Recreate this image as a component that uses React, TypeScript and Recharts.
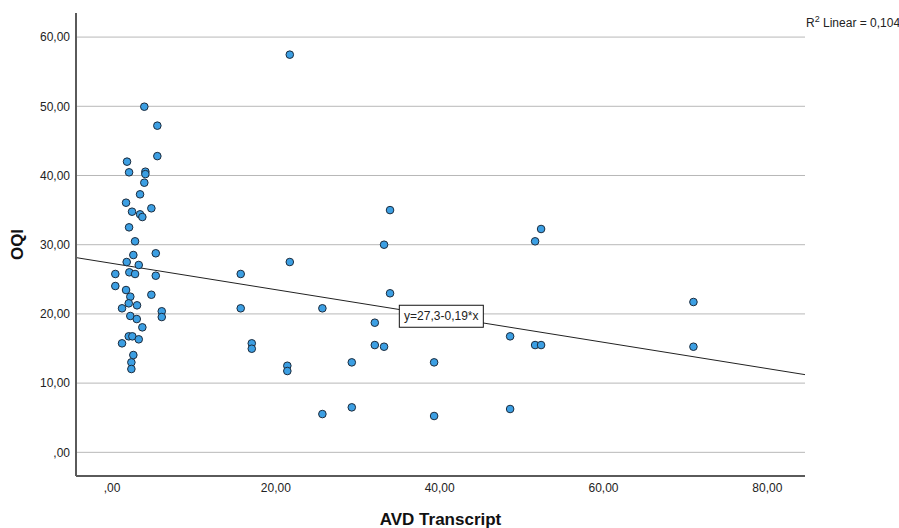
import React from "react";
import {
  ScatterChart,
  Scatter,
  XAxis,
  YAxis,
  CartesianGrid,
  ReferenceLine,
  ReferenceDot,
  Label,
  Customized,
} from "recharts";

// AVD Transcript (x) and OQI (y), one entry per case
const avdTranscript = [
  3.94, 5.53, 5.53, 1.83, 2.08, 4.07, 4.07, 3.94, 3.42, 1.71,
  2.44, 3.42, 3.7, 4.8, 2.08, 2.81, 2.6, 5.34, 1.79, 3.26,
  0.4, 2.11, 2.81, 5.34, 0.4, 1.71, 2.23, 2.04, 3.05, 4.8,
  1.22, 6.07, 6.07, 2.23, 3.02, 3.7, 2.04, 2.48, 3.26, 1.22,
  2.6, 2.36, 2.36,
  21.7, 33.94, 33.21, 52.38, 51.65, 21.7, 15.71, 33.94, 15.71, 25.68,
  32.08, 17.06, 17.06, 32.08, 33.21, 48.6, 51.65, 52.38, 21.4, 21.4,
  29.27, 39.32, 25.68, 29.27, 39.32, 48.6, 70.98, 70.98,
];

const oqi = [
  49.94, 47.2, 42.8, 42.0, 40.46, 40.55, 40.2, 38.96, 37.28, 36.07,
  34.77, 34.39, 34.0, 35.26, 32.51, 30.49, 28.51, 28.76, 27.5, 27.07,
  25.77, 26.01, 25.77, 25.52, 24.03, 23.45, 22.49, 21.53, 21.24, 22.77,
  20.81, 20.38, 19.55, 19.7, 19.26, 18.06, 16.76, 16.76, 16.33, 15.75,
  14.06, 13.0, 12.04,
  57.46, 35.0, 30.0, 32.27, 30.49, 27.5, 25.77, 22.98, 20.81, 20.81,
  18.73, 15.75, 14.97, 15.5, 15.26, 16.76, 15.5, 15.5, 12.51, 11.75,
  13.0, 13.0, 5.53, 6.5, 5.25, 6.26, 21.72, 15.26,
];

const xTicks = [0, 20, 40, 60, 80];
const yTicks = [0, 10, 20, 30, 40, 50, 60];

// fit line: y = 27,3 - 0,19 * x, R² = 0,104
const intercept = 27.3;
const slope = -0.19;
const rSquared = "0,104";

const X_DOMAIN: [number, number] = [-4.4, 84.6];
const Y_DOMAIN: [number, number] = [-3.42, 63.48];
const FONT = "'Liberation Sans', Arial, sans-serif";

const points = avdTranscript.map((x, i) => ({ x, y: oqi[i] }));
const fit = (x: number) => intercept + slope * x;

const fmt = (v: number) =>
  v === 0 ? ",00" : v.toFixed(2).replace(".", ",");

const Dot = (props: any) => (
  <circle
    cx={props.cx}
    cy={props.cy}
    r={3.8}
    fill="#3c9fe3"
    stroke="#1b2b3d"
    strokeWidth={1}
  />
);

const labelX = 40.2;

const EquationBox = (props: any) => {
  const { cx, cy } = props;
  return (
    <g>
      <rect
        x={cx - 42}
        y={cy - 11}
        width={84}
        height={22}
        fill="#fff"
        stroke="#111"
        strokeWidth={1}
      />
      <text
        x={cx}
        y={cy + 4}
        textAnchor="middle"
        fontFamily={FONT}
        fontSize={12}
        fill="#222"
      >
        y=27,3-0,19*x
      </text>
    </g>
  );
};

const RSquaredNote = () => (
  <text x={806} y={27} fontFamily={FONT} fontSize={12} fill="#222">
    R
    <tspan fontSize={9} dy={-5}>
      2
    </tspan>
    <tspan dy={5}> Linear = {rSquared}</tspan>
  </text>
);

const tickStyle = { fontFamily: FONT, fontSize: 12, fill: "#222" };

export default function App() {
  return (
    <div style={{ position: "absolute", left: 0, top: 0, background: "#fff" }}>
      <ScatterChart
        width={899}
        height={528}
        margin={{ top: 13, right: 94, bottom: 0, left: 0 }}
      >
        <CartesianGrid
          vertical={false}
          stroke="#b8b8b8"
          strokeWidth={1}
          horizontalValues={yTicks}
        />
        <XAxis
          type="number"
          dataKey="x"
          domain={X_DOMAIN}
          ticks={xTicks}
          allowDataOverflow
          tickFormatter={fmt}
          tick={tickStyle}
          tickLine={false}
          tickSize={0}
          tickMargin={7}
          height={52}
          axisLine={{ stroke: "#5a5a5a", strokeWidth: 2 }}
        >
          <Label
            content={(p: any) => {
              const vb = p.viewBox;
              return (
                <text
                  x={vb.x + vb.width / 2}
                  y={525}
                  textAnchor="middle"
                  fontFamily={FONT}
                  fontSize={17}
                  fontWeight="bold"
                  fill="#111"
                >
                  AVD Transcript
                </text>
              );
            }}
          />
        </XAxis>
        <YAxis
          type="number"
          dataKey="y"
          domain={Y_DOMAIN}
          ticks={yTicks}
          allowDataOverflow
          tickFormatter={fmt}
          tick={tickStyle}
          tickLine={false}
          tickSize={0}
          tickMargin={6}
          width={76}
          axisLine={{ stroke: "#5a5a5a", strokeWidth: 2 }}
        >
          <Label
            content={(p: any) => {
              const vb = p.viewBox;
              const cy = vb.y + vb.height / 2;
              return (
                <text
                  x={23}
                  y={cy}
                  transform={`rotate(-90, 23, ${cy})`}
                  textAnchor="middle"
                  fontFamily={FONT}
                  fontSize={17}
                  fontWeight="bold"
                  fill="#111"
                >
                  OQI
                </text>
              );
            }}
          />
        </YAxis>
        <ReferenceLine
          segment={[
            { x: X_DOMAIN[0], y: fit(X_DOMAIN[0]) },
            { x: X_DOMAIN[1], y: fit(X_DOMAIN[1]) },
          ]}
          stroke="#222"
          strokeWidth={1}
        />
        <Scatter
          data={points}
          shape={Dot}
          isAnimationActive={false}
        />
        <ReferenceDot
          x={labelX}
          y={fit(labelX)}
          shape={EquationBox}
        />
        <Customized component={RSquaredNote} />
      </ScatterChart>
    </div>
  );
}
